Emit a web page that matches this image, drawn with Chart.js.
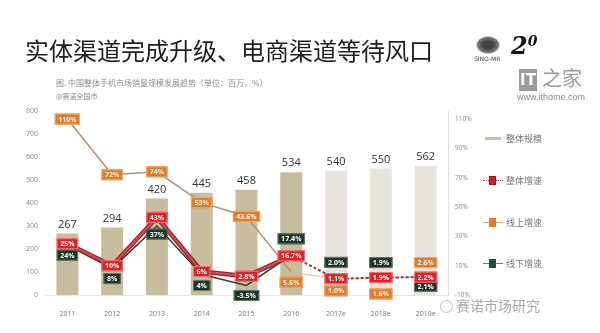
<!DOCTYPE html>
<html><head><meta charset="utf-8">
<script src="https://cdn.jsdelivr.net/npm/chart.js@4"></script>
<style>
html,body{margin:0;padding:0;width:600px;height:333px;overflow:hidden;background:#fff;font-family:"Noto Sans CJK SC","Noto Sans",sans-serif;}
#wrap{position:relative;width:600px;height:333px;}
canvas{position:absolute;left:0;top:0;}
.t{position:absolute;white-space:nowrap;line-height:1;}
.lg{position:absolute;left:506px;font-size:9px;color:#777;line-height:1;}
</style></head><body>
<div id="wrap">
<canvas id="c" width="600" height="333"></canvas>
<div class="t" style="left:25px;top:38px;font-size:24px;color:#1e1e1e;">实体渠道完成升级、电商渠道等待风口</div>
<div class="t" style="left:56px;top:79px;font-size:8px;color:#8a8a8a;">图. 中国整体手机市场销量规模发展趋势（单位：百万，%）</div>
<div class="t" style="left:56px;top:93px;font-size:7px;color:#8a8a8a;">@赛诺全国市</div>
<div class="t" style="left:476px;top:36px;width:24px;height:18px;background:radial-gradient(ellipse at 50% 50%,#444 30%,#777 60%,rgba(255,255,255,0) 72%);"></div>
<div class="t" style="left:474px;top:56px;font-size:6px;color:#444;font-family:'DejaVu Sans';">SINO-MR</div>
<div class="t" style="left:511px;top:34px;font-size:24px;color:#111;font-style:italic;font-weight:bold;font-family:'DejaVu Serif';">2<span style="font-size:14px;vertical-align:top;">0</span></div>
<div class="t" style="left:519px;top:69px;width:18px;height:22px;background:#9a9a9a;color:#fff;font-size:15px;font-weight:bold;font-family:'DejaVu Sans';text-align:center;line-height:22px;">IT</div>
<div class="t" style="left:542px;top:68px;font-size:20px;color:#999;">之家</div>
<div class="t" style="left:517px;top:93px;font-size:9px;color:#888;font-family:'Liberation Sans';">www.ithome.com</div>
<div class="t" style="left:440px;top:300px;width:11px;height:11px;border:1px solid #bbb;border-radius:50%;"></div>
<div class="t" style="left:456px;top:298px;font-size:14px;color:#aaa;">赛诺市场研究</div>

<div class="t" style="left:485px;top:137px;width:16px;height:3px;background:#c9c1a4;"></div>
<div class="lg" style="top:134px;">整体规模</div>
<div class="t" style="left:483px;top:180px;width:20px;border-top:1px dotted #c03040;"></div>
<div class="t" style="left:489px;top:176px;width:7px;height:9px;background:#d81e26;border:1px solid #a01018;box-sizing:border-box;"></div>
<div class="lg" style="top:176px;">整体增速</div>
<div class="t" style="left:483px;top:222px;width:20px;border-top:1px solid #c9a080;"></div>
<div class="t" style="left:489px;top:218px;width:7px;height:9px;background:#e07a30;"></div>
<div class="lg" style="top:218px;">线上增速</div>
<div class="t" style="left:483px;top:263px;width:20px;border-top:1px solid #777;"></div>
<div class="t" style="left:489px;top:259px;width:7px;height:9px;background:#234a3a;"></div>
<div class="lg" style="top:259px;">线下增速</div>
</div>
<script>
const categories = ['2011','2012','2013','2014','2015','2016','2017e','2018e','2019e'];
const totalVolume = [267, 294, 420, 445, 458, 534, 540, 550, 562];
const totalGrowth = [25, 10, 43, 6, 2.8, 16.7, 1.1, 1.9, 2.2];
const onlineGrowth = [110, 72, 74, 53, 43.6, 5.6, 1.0, 1.6, 2.6];
const offlineGrowth = [24, 8, 37, 4, -3.5, 17.4, 2.0, 1.9, 2.1];
const leftTicks = [0, 100, 200, 300, 400, 500, 600, 700, 800];
const rightTicks = [-10, 10, 30, 50, 70, 90, 110];
const lastActualIndex = 5;

const barColors = categories.map((_, i) => i <= lastActualIndex ? '#c7bc9e' : '#e6e4dc');

const labelStyles = {
  online:  {fill:'#e07b2e', stroke:'#f5a868', text:'#fff4e8', dy:[0,0,0,0,0,10,12,16,-14]},
  offline: {fill:'#1d3529', stroke:'#647a6c', text:'#ffffff', dy:[10,10,8,11,10,-16,-15,-15,9]},
  total:   {fill:'#d9222b', stroke:'#f27a7a', text:'#ffffff', dy:[0,0,0,0,0,0,0,0,0]}
};

const fmtPct = (v, i) => (i > lastActualIndex ? v.toFixed(1) : String(v)) + '%';

const labelPlugin = {
  id: 'labels',
  afterDatasetsDraw(chart) {
    const ctx = chart.ctx;
    ctx.save();
    const barMeta = chart.getDatasetMeta(0);
    ctx.font = '11px "Open Sans", sans-serif';
    ctx.fillStyle = '#333';
    ctx.textAlign = 'center';
    ctx.textBaseline = 'middle';
    barMeta.data.forEach((el, i) => {
      ctx.fillText(String(totalVolume[i]), el.x, el.y - 9);
    });
    chart.data.datasets.forEach((ds, di) => {
      if (!ds.labelKey) return;
      const st = labelStyles[ds.labelKey];
      const meta = chart.getDatasetMeta(di);
      ctx.font = 'bold 7px "Open Sans", sans-serif';
      meta.data.forEach((pt, i) => {
        const txt = fmtPct(ds.data[i], i);
        const w = ctx.measureText(txt).width + 7;
        const h = 11;
        const x = pt.x, y = pt.y + st.dy[i];
        ctx.fillStyle = st.fill;
        ctx.fillRect(x - w/2, y - h/2, w, h);
        ctx.strokeStyle = st.stroke;
        ctx.lineWidth = 1;
        ctx.strokeRect(x - w/2 + 0.5, y - h/2 + 0.5, w - 1, h - 1);
        ctx.fillStyle = st.text;
        ctx.fillText(txt, x, y + 0.5);
      });
    });
    ctx.restore();
  }
};

const after = (ctx) => ctx.p0DataIndex >= lastActualIndex;

new Chart(document.getElementById('c'), {
  data: {
    labels: categories,
    datasets: [
      {type:'bar', label:'整体规模', data: totalVolume, yAxisID:'y', backgroundColor: barColors,
       barPercentage: 0.49, categoryPercentage: 1, order: 10},
      {type:'line', label:'线上增速', data: onlineGrowth, yAxisID:'y1', labelKey:'online',
       borderColor:'#b8906e', borderWidth:1.5, pointRadius:0, tension:0, order:4,
       segment:{borderColor: c => after(c) ? 'rgba(215,170,140,0.6)' : undefined}},
      {type:'line', label:'线下增速', data: offlineGrowth, yAxisID:'y1', labelKey:'offline',
       borderColor:'#3d3a33', borderWidth:1.5, pointRadius:0, tension:0, order:3,
       segment:{borderColor: c => after(c) ? 'rgba(0,0,0,0)' : undefined}},
      {type:'line', label:'整体增速边', data: totalGrowth, yAxisID:'y1',
       borderColor:'#8a2a30', borderWidth:4.5, pointRadius:0, tension:0, order:2,
       segment:{borderColor: c => after(c) ? 'rgba(0,0,0,0)' : undefined}},
      {type:'line', label:'整体增速', data: totalGrowth, yAxisID:'y1', labelKey:'total',
       borderColor:'#e2474d', borderWidth:2, pointRadius:0, tension:0, order:1,
       segment:{borderColor: c => after(c) ? '#9a3a48' : undefined,
                borderDash: c => after(c) ? [3,2] : undefined}}
    ]
  },
  options: {
    responsive: false,
    animation: false,
    layout: {padding: {top: 111, left: 0, right: 0, bottom: 0}},
    plugins: {legend: {display: false}, tooltip: {enabled: false}},
    scales: {
      x: {
        grid: {display: false},
        border: {display: true, color: '#e8e8e8'},
        ticks: {font: {size: 7, family: '"Open Sans"'}, color: '#777', padding: 7, maxRotation: 0},
        afterFit: s => { s.height = 38; }
      },
      y: {
        position: 'left', min: 0, max: 800,
        grid: {display: false, drawTicks: false},
        border: {display: false},
        ticks: {font: {size: 7, family: '"Open Sans"'}, color: '#888', padding: 7},
        afterBuildTicks: a => { a.ticks = leftTicks.map(v => ({value: v})); },
        afterFit: s => { s.width = 45; }
      },
      y1: {
        position: 'right', min: -10, max: 115.5,
        grid: {display: false, drawTicks: false},
        border: {display: true, color: '#e0e0e0'},
        ticks: {font: {size: 6.5, family: '"Open Sans"'}, color: '#888', padding: 7,
                callback: v => v + '%'},
        afterBuildTicks: a => { a.ticks = rightTicks.map(v => ({value: v})); },
        afterFit: s => { s.width = 152; }
      }
    }
  },
  plugins: [labelPlugin]
});
</script>
</body></html>
